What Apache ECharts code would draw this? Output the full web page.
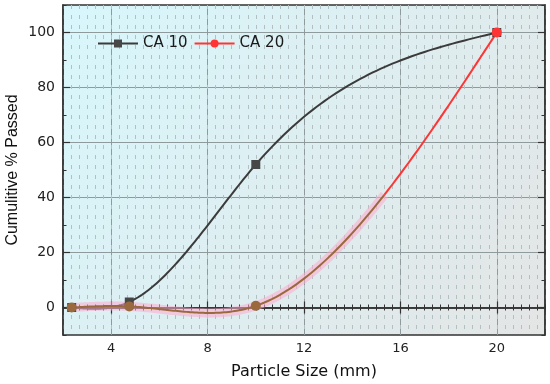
<!DOCTYPE html>
<html><head><meta charset="utf-8">
<script src="https://cdn.jsdelivr.net/npm/echarts@6/dist/echarts.min.js"></script>
<style>html,body{margin:0;padding:0;background:#fff}#c{width:550px;height:384px}</style>
</head><body><div id="c"></div>
<script>
// Data
const sieveSizes = [2.36, 4.75, 10, 20];
const ca10 = [0, 2, 52, 100];
const ca20 = [0, 0.4, 0.6, 100];
const seriesNames = ['CA 10', 'CA 20'];
const xTicks = [4, 8, 12, 16, 20];
const yTicks = [0, 20, 40, 60, 80, 100];

const FONT = "'Liberation Sans', Arial, sans-serif";
const WFONT = "'DejaVu Sans', sans-serif";
const AX = '#333333';
const brown = '#9a6a3e';
const red = '#ff3535';
const dark = '#3b3b3b';
const RED_FROM = 42; // CA 20 curve turns red above this value

// natural cubic spline through the measured points (like Origin's spline connection)
function naturalSpline(xs, ys) {
  const n = xs.length, h = [];
  for (let i = 0; i < n - 1; i++) h.push(xs[i + 1] - xs[i]);
  const a = [], b = [], c = [], d = [];
  for (let i = 1; i < n - 1; i++) {
    a.push(h[i - 1]); b.push(2 * (h[i - 1] + h[i])); c.push(h[i]);
    d.push(6 * ((ys[i + 1] - ys[i]) / h[i] - (ys[i] - ys[i - 1]) / h[i - 1]));
  }
  const m = a.length;
  for (let i = 1; i < m; i++) { const w = a[i] / b[i - 1]; b[i] -= w * c[i - 1]; d[i] -= w * d[i - 1]; }
  const sol = new Array(m);
  if (m > 0) {
    sol[m - 1] = d[m - 1] / b[m - 1];
    for (let i = m - 2; i >= 0; i--) sol[i] = (d[i] - c[i] * sol[i + 1]) / b[i];
  }
  const M = new Array(n).fill(0);
  for (let i = 0; i < m; i++) M[i + 1] = sol[i];
  return function (k, x) {
    const hk = h[k], A = xs[k + 1] - x, B = x - xs[k];
    return M[k] * A * A * A / (6 * hk) + M[k + 1] * B * B * B / (6 * hk)
      + (ys[k] - M[k] * hk * hk / 6) * A / hk + (ys[k + 1] - M[k + 1] * hk * hk / 6) * B / hk;
  };
}

function curveSeries(ys, colorOf, halo) {
  const S = naturalSpline(sieveSizes, ys);
  return {
    type: 'custom', coordinateSystem: 'cartesian2d', xAxisIndex: 0, yAxisIndex: 0,
    silent: true, z: 2, clip: true,
    data: sieveSizes.map((x, i) => [x, ys[i]]),
    encode: { x: 0, y: 1 },
    renderItem: function (params, api) {
      const k = params.dataIndex;
      if (k >= sieveSizes.length - 1) return null;
      const steps = 60, x0 = sieveSizes[k], x1 = sieveSizes[k + 1];
      const runs = [];
      let cur = null;
      for (let s = 0; s <= steps; s++) {
        const x = x0 + (x1 - x0) * s / steps;
        const y = S(k, x);
        const col = colorOf(y);
        const p = api.coord([x, y]);
        if (!cur || cur.col !== col) {
          const prev = cur ? cur.pts[cur.pts.length - 1] : null;
          cur = { col: col, y: y, pts: prev ? [prev] : [] };
          runs.push(cur);
        }
        cur.pts.push(p);
      }
      const children = [];
      if (halo) {
        runs.forEach(r => {
          if (r.col === halo.under) children.push({ type: 'polyline', shape: { points: r.pts },
            style: { stroke: halo.color, lineWidth: halo.width, fill: null, lineCap: 'butt' } });
        });
      }
      runs.forEach(r => children.push({ type: 'polyline', shape: { points: r.pts },
        style: { stroke: r.col, lineWidth: 2, fill: null, lineJoin: 'round' } }));
      return { type: 'group', children: children };
    }
  };
}

function pts(ys, colorFn) {
  return sieveSizes.map((x, i) => {
    const o = { value: [x, ys[i]] };
    if (colorFn) { const c = colorFn(i); if (c) o.itemStyle = { color: c }; }
    return o;
  });
}

function majorX(pos, withLabels) {
  return {
    type: 'value', position: pos, min: 2, max: 22,
    axisLine: { show: true, lineStyle: { color: AX, width: 1.5 } },
    axisTick: { show: true, inside: true, length: 6, customValues: xTicks, lineStyle: { color: AX, width: 1.2 } },
    axisLabel: withLabels ? { show: true, customValues: xTicks, fontSize: 13, color: '#222', margin: 7, fontFamily: WFONT } : { show: false },
    splitLine: { show: withLabels, lineStyle: { color: '#8f9a9c', width: 1 } }
  };
}
function minorX(pos, withSplit) {
  return {
    type: 'value', position: pos, min: 2, max: 22, interval: 1 / 3,
    axisLine: { show: false },
    axisTick: { show: true, inside: true, length: 3, lineStyle: { color: AX, width: 1 } },
    axisLabel: { show: false },
    splitLine: { show: withSplit, lineStyle: { color: '#b3c0c2', width: 1, type: [4, 6] } }
  };
}
function majorY(pos, withLabels) {
  return {
    type: 'value', position: pos, min: -10, max: 110,
    axisLine: { show: true, lineStyle: { color: AX, width: 1.5 } },
    axisTick: { show: true, inside: true, length: 7, customValues: yTicks, lineStyle: { color: AX, width: 1.2 } },
    axisLabel: withLabels ? { show: true, customValues: yTicks, fontSize: 14, color: '#222', margin: 8, fontFamily: WFONT } : { show: false },
    splitLine: { show: withLabels, lineStyle: { color: '#8f9a9c', width: 1 } }
  };
}
function minorY(pos) {
  return {
    type: 'value', position: pos, min: -10, max: 110, interval: 10,
    axisLine: { show: false },
    axisTick: { show: true, inside: true, length: 3.5, lineStyle: { color: AX, width: 1 } },
    axisLabel: { show: false },
    splitLine: { show: false }
  };
}

const xMain = majorX('bottom', true);
xMain.name = 'Particle Size (mm)';
xMain.nameLocation = 'middle';
xMain.nameGap = 29;
xMain.nameMoveOverlap = false;
xMain.nameTextStyle = { fontSize: 16, color: '#111', fontFamily: WFONT };

const yMain = majorY('left', true);
yMain.name = 'Cumulitive % Passed';
yMain.nameLocation = 'middle';
yMain.nameGap = 42;
yMain.nameMoveOverlap = false;
yMain.nameTextStyle = { fontSize: 16, color: '#111', fontFamily: FONT };

const option = {
  animation: false,
  backgroundColor: '#ffffff',
  grid: {
    left: 63, right: 5, top: 5, bottom: 49, show: true,
    containLabel: false, outerBoundsMode: 'none',
    borderColor: AX, borderWidth: 1.5,
    backgroundColor: { type: 'linear', x: 0, y: 0, x2: 1, y2: 1, colorStops: [
      { offset: 0, color: '#d8f7fc' }, { offset: 1, color: '#e4e5e5' } ] }
  },
  legend: {
    data: seriesNames, left: 92, top: 31,
    itemWidth: 40, itemHeight: 10, itemGap: 6,
    lineStyle: { opacity: 1, width: 2 },
    textStyle: { fontSize: 15, color: '#1a1a1a', fontFamily: WFONT }
  },
  xAxis: [xMain, minorX('bottom', true), majorX('top', false), minorX('top', false)],
  yAxis: [yMain, minorY('left'), majorY('right', false), minorY('right')],
  series: [
    curveSeries(ca10, () => dark, null),
    curveSeries(ca20, y => (y < RED_FROM ? brown : red), { under: brown, color: 'rgba(255,170,205,0.55)', width: 9 }),
    {
      name: seriesNames[0], type: 'line', xAxisIndex: 0, yAxisIndex: 0,
      symbol: 'rect', symbolSize: 9, z: 3,
      lineStyle: { color: dark, width: 2, opacity: 0 },
      itemStyle: { color: '#474747' },
      data: pts(ca10)
    },
    {
      name: seriesNames[1], type: 'line', xAxisIndex: 0, yAxisIndex: 0,
      symbol: 'circle', symbolSize: 10, z: 4,
      lineStyle: { color: red, width: 2, opacity: 0 },
      itemStyle: { color: red },
      data: pts(ca20, i => (ca20[i] < RED_FROM ? brown : null))
    }
  ]
};
const chart = echarts.init(document.getElementById('c'), null, { renderer: 'canvas' });
chart.setOption(option);
</script></body></html>
